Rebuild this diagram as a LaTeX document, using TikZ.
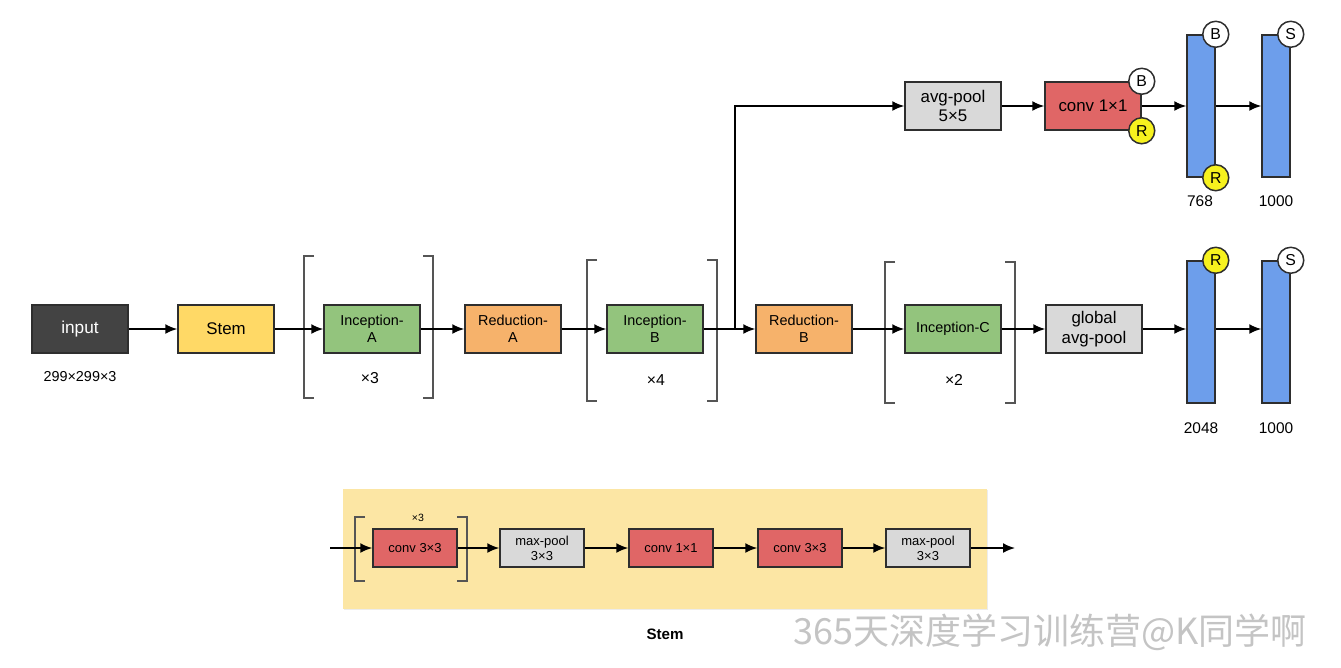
\documentclass[tikz,border=0pt]{standalone}
\usepackage{fontspec}
\setmainfont{Liberation Sans}
\newfontfamily\cjk{Noto Sans CJK SC}
\usetikzlibrary{positioning, arrows.meta, shadows}
\definecolor{icdark}{HTML}{434343}
\definecolor{icedge}{HTML}{2E2E2E}
\definecolor{icstem}{HTML}{FFD966}
\definecolor{icgreen}{HTML}{93C47D}
\definecolor{icorange}{HTML}{F6B26B}
\definecolor{icgray}{HTML}{D9D9D9}
\definecolor{icred}{HTML}{E06666}
\definecolor{icblue}{HTML}{6D9EEB}
\definecolor{icyellow}{HTML}{F7F21E}
\definecolor{icpanel}{HTML}{FCE6A4}
\definecolor{icbracket}{HTML}{555555}
\definecolor{icmark}{HTML}{C4C4C4}

\begin{document}
\begin{tikzpicture}[x=0.02cm, y=-0.02cm, font=\fontsize{8.2}{9.6}\selectfont,
    block/.style={draw=icedge, line width=0.85pt, minimum width=1.92cm, minimum height=0.96cm,
                  align=center, inner sep=1pt,
                  drop shadow={opacity=0.18, shadow xshift=0.7pt, shadow yshift=-0.7pt}},
    smallblock/.style={block, minimum width=1.68cm, minimum height=0.76cm,
                       font=\fontsize{7.4}{8.6}\selectfont},
    fc/.style={draw=icedge, line width=0.85pt, fill=icblue, minimum width=0.56cm,
               minimum height=2.84cm, inner sep=0pt},
    tag/.style={circle, draw=icedge, line width=0.85pt, minimum size=0.52cm, inner sep=0pt,
                font=\fontsize{9}{10}\selectfont},
    flow/.style={-{Latex[length=6.8pt,width=5.6pt]}, line width=0.9pt, color=black},
    bracket/.style={draw=icbracket, line width=0.7pt}]
  \useasboundingbox (0,0) rectangle (1341,667);

  % main path
  \node[block, fill=icdark, text=white, font=\fontsize{9.8}{11}\selectfont] (input) at (80,329) {input};
  \node[block, fill=icstem, font=\fontsize{9.6}{11}\selectfont] (stem) at (226,329) {Stem};
  \node[block, fill=icgreen] (incA) at (372,329) {Inception-\\A};
  \node[block, fill=icorange] (redA) at (513,329) {Reduction-\\A};
  \node[block, fill=icgreen] (incB) at (655,329) {Inception-\\B};
  \node[block, fill=icorange] (redB) at (804,329) {Reduction-\\B};
  \node[block, fill=icgreen] (incC) at (953,329) {Inception-C};
  \node[block, fill=icgray, font=\fontsize{9.6}{11}\selectfont] (gpool) at (1094,329) {global\\avg-pool};
  \node[fc] (fcA) at (1201,332) {};
  \node[fc] (fcB) at (1276,332) {};
  \node[tag, fill=icyellow] (fcAr) at (fcA.north east) {R};
  \node[tag, fill=white] (fcBs) at (fcB.north east) {S};

  \node (inputdim) at (80,377) {299×299×3};
  \node[font=\fontsize{9}{10}\selectfont] (repA) at (370,378) {×3};
  \node[font=\fontsize{9}{10}\selectfont] (repB) at (656,380) {×4};
  \node[font=\fontsize{9}{10}\selectfont] (repC) at (954,380) {×2};
  \node[font=\fontsize{8.8}{10}\selectfont] (fcAdim) at (1201,428) {2048};
  \node[font=\fontsize{8.8}{10}\selectfont] (fcBdim) at (1276,428) {1000};

  % repeat brackets
  \draw[bracket] (314,256) -- (304,256) -- (304,398) -- (314,398);
  \draw[bracket] (423,256) -- (433,256) -- (433,398) -- (423,398);
  \draw[bracket] (597,260) -- (587,260) -- (587,401) -- (597,401);
  \draw[bracket] (707,260) -- (717,260) -- (717,401) -- (707,401);
  \draw[bracket] (895,262) -- (885,262) -- (885,403) -- (895,403);
  \draw[bracket] (1005,262) -- (1015,262) -- (1015,403) -- (1005,403);

  % auxiliary head
  \node[block, fill=icgray, font=\fontsize{9.6}{11}\selectfont] (auxpool) at (953,106) {avg-pool\\5×5};
  \node[block, fill=icred, font=\fontsize{9.6}{11}\selectfont] (auxconv) at (1093,106) {conv 1×1};
  \node[fc] (auxfcA) at (1201,106) {};
  \node[fc] (auxfcB) at (1276,106) {};
  \node[tag, fill=white] (auxconvb) at (auxconv.north east) {B};
  \node[tag, fill=icyellow] (auxconvr) at (auxconv.south east) {R};
  \node[tag, fill=white] (auxfcAb) at (auxfcA.north east) {B};
  \node[tag, fill=icyellow] (auxfcAr) at (auxfcA.south east) {R};
  \node[tag, fill=white] (auxfcBs) at (auxfcB.north east) {S};
  \node[font=\fontsize{8.8}{10}\selectfont] (auxfcAdim) at (1200,201) {768};
  \node[font=\fontsize{8.8}{10}\selectfont] (auxfcBdim) at (1276,201) {1000};

  \coordinate (split) at (735,329);

  \draw[flow] (input) -- (stem);
  \draw[flow] (stem) -- (incA);
  \draw[flow] (incA) -- (redA);
  \draw[flow] (redA) -- (incB);
  \draw[flow] (incB.east) -- (redB.west);
  \draw[flow] (redB) -- (incC);
  \draw[flow] (incC) -- (gpool);
  \draw[flow] (gpool.east) -- (gpool.east -| fcA.west);
  \draw[flow] (fcA.east |- gpool.east) -- (fcB.west |- gpool.east);
  \draw[flow] (split) |- (auxpool.west);
  \draw[flow] (auxpool) -- (auxconv);
  \draw[flow] (auxconv) -- (auxfcA);
  \draw[flow] (auxfcA) -- (auxfcB);

  % stem detail
  \node[fill=icpanel, minimum width=12.88cm, minimum height=2.4cm,
        drop shadow={opacity=0.15, shadow xshift=0.7pt, shadow yshift=-0.7pt}] (panel) at (665,549) {};
  \node[font=\bfseries\fontsize{8.6}{10}\selectfont] (panelname) at (665,634) {Stem};
  \node[smallblock, fill=icred] (sconvA) at (415,548) {conv 3×3};
  \node[smallblock, fill=icgray] (spoolA) at (542,548) {max-pool\\3×3};
  \node[smallblock, fill=icred] (sconvB) at (671,548) {conv 1×1};
  \node[smallblock, fill=icred] (sconvC) at (800,548) {conv 3×3};
  \node[smallblock, fill=icgray] (spoolB) at (928,548) {max-pool\\3×3};
  \node[font=\fontsize{6}{7}\selectfont] (srep) at (418,518) {×3};
  \draw[bracket] (365,517) -- (355,517) -- (355,581) -- (365,581);
  \draw[bracket] (457,517) -- (467,517) -- (467,581) -- (457,581);
  \coordinate (sin) at (330,548);
  \coordinate (sout) at (1015,548);
  \draw[flow] (sin) -- (sconvA);
  \draw[flow] (sconvA) -- (spoolA);
  \draw[flow] (spoolA) -- (sconvB);
  \draw[flow] (sconvB) -- (sconvC);
  \draw[flow] (sconvC) -- (spoolB);
  \draw[flow] (spoolB) -- (sout);

  \node[text=icmark, font=\cjk\fontsize{20.5}{23}\selectfont, inner sep=0pt] (mark) at (1050,632) {365天深度学习训练营@K同学啊};
\end{tikzpicture}
\end{document}
